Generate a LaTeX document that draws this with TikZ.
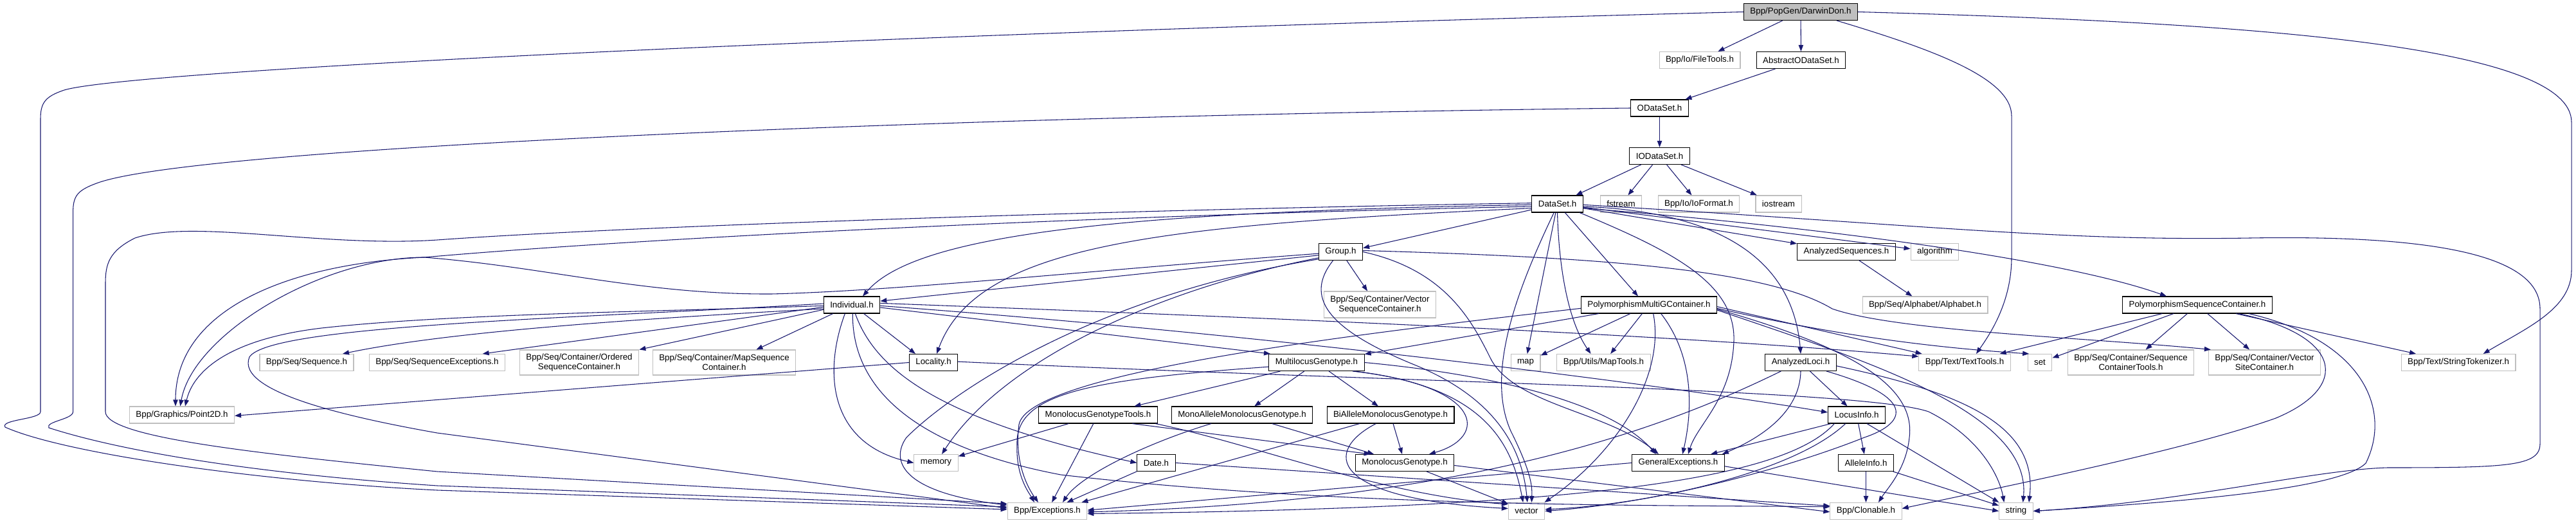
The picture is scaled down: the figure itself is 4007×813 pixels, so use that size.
\documentclass[tikz,border=0pt]{standalone}
\usepackage{fontspec}
\setmainfont{Liberation Sans}
\usetikzlibrary{arrows.meta}
\definecolor{edgec}{HTML}{191970}
\definecolor{extc}{HTML}{BFBFBF}
\begin{document}
\begin{tikzpicture}[x=0.75pt,y=-0.75pt,
  box/.style={draw=black,line width=0.8pt,inner xsep=7.5pt,inner ysep=1pt,minimum height=19.5pt,font=\fontsize{10}{11.25}\selectfont,align=center},
  ext/.style={box,draw=extc},
  root/.style={box,fill=extc},
  two/.style={minimum height=29.25pt},
  e/.style={draw=edgec,line width=0.8pt,-{Triangle[length=7.5pt,width=5.5pt]}}
]
\path[use as bounding box,fill=white] (0,0) rectangle (4007,813);

% nodes
\node[root] (darwin) at (2801,18.5) {Bpp/PopGen/DarwinDon.h};
\node[ext] (filetools) at (2644,93.5) {Bpp/Io/FileTools.h};
\node[box] (aods) at (2801.5,93.5) {AbstractODataSet.h};
\node[box] (ods) at (2581.5,168) {ODataSet.h};
\node[box] (iods) at (2581.5,242.5) {IODataSet.h};
\node[box] (ds) at (2422.5,317) {DataSet.h};
\node[ext] (fstream) at (2521.5,317) {fstream};
\node[ext] (ioformat) at (2642.5,317) {Bpp/Io/IoFormat.h};
\node[ext] (iostream) at (2766.5,317) {iostream};
\node[box] (group) at (2085.5,391.5) {Group.h};
\node[box] (aseq) at (2872,391.5) {AnalyzedSequences.h};
\node[ext] (algorithm) at (3009.5,391.5) {algorithm};
\node[ext,minimum height=30.75pt] (vseqc) at (2146.5,473.5) {Bpp/Seq/Container/Vector\\SequenceContainer.h};
\node[box] (indiv) at (1325,474) {Individual.h};
\node[box] (pmgc) at (2565,474) {PolymorphismMultiGContainer.h};
\node[ext] (alphabet) at (2994.5,474) {Bpp/Seq/Alphabet/Alphabet.h};
\node[box] (psc) at (3418,474) {PolymorphismSequenceContainer.h};
\node[ext] (sequence) at (477,563.5) {Bpp/Seq/Sequence.h};
\node[ext] (seqexc) at (680,563.5) {Bpp/Seq/SequenceExceptions.h};
\node[ext,two] (osc) at (901,563.5) {Bpp/Seq/Container/Ordered\\SequenceContainer.h};
\node[ext,two] (msc) at (1126.5,563.5) {Bpp/Seq/Container/MapSequence\\Container.h};
\node[box] (locality) at (1452,563.5) {Locality.h};
\node[box] (mlg) at (2048,563.5) {MultilocusGenotype.h};
\node[ext] (map) at (2373,563.5) {map};
\node[ext] (maptools) at (2494.5,563.5) {Bpp/Utils/MapTools.h};
\node[box] (aloci) at (2801,563.5) {AnalyzedLoci.h};
\node[ext] (texttools) at (3056,563.5) {Bpp/Text/TextTools.h};
\node[ext] (set) at (3173,563.5) {set};
\node[ext,two] (sct) at (3314.5,563.5) {Bpp/Seq/Container/Sequence\\ContainerTools.h};
\node[ext,two] (vsitec) at (3522.5,563.5) {Bpp/Seq/Container/Vector\\SiteContainer.h};
\node[ext] (strtok) at (3824,563.5) {Bpp/Text/StringTokenizer.h};
\node[ext] (point2d) at (283,645) {Bpp/Graphics/Point2D.h};
\node[box] (mgt) at (1708,645) {MonolocusGenotypeTools.h};
\node[box] (mamg) at (1932,645) {MonoAlleleMonolocusGenotype.h};
\node[box] (bamg) at (2163,645) {BiAlleleMonolocusGenotype.h};
\node[box] (locusinfo) at (2888,645) {LocusInfo.h};
\node[ext] (memory) at (1456,719.5) {memory};
\node[box] (date) at (1798.5,719.5) {Date.h};
\node[box] (mg) at (2185,719.5) {MonolocusGenotype.h};
\node[box] (genexc) at (2610.5,719.5) {GeneralExceptions.h};
\node[box] (alleleinfo) at (2902.5,719.5) {AlleleInfo.h};
\node[ext] (exceptions) at (1629,794.5) {Bpp/Exceptions.h};
\node[ext] (vector) at (2374.5,794.5) {vector};
\node[ext] (clonable) at (2902.5,794.5) {Bpp/Clonable.h};
\node[ext] (string) at (3136,794.5) {string};

% DarwinDon
\draw[e] (darwin) -- (filetools);
\draw[e] (darwin) -- (aods);
\draw[e] ([xshift=42pt]darwin.south) .. controls (3000,75) and (3129,120) .. (3129,180) -- (3129,400) .. controls (3129,470) and (3095,520) .. ([xshift=13.5pt]texttools.north);
\draw[e] (darwin.east) .. controls (3500,35) and (4000,70) .. (4000,190) -- (4000,420) .. controls (4000,480) and (3930,510) .. ([xshift=29pt]strtok.north);
\draw[e] (darwin.west) .. controls (1300,55) and (200,110) .. (100,140) .. controls (70,150) and (63,160) .. (63,185) -- (63,640) .. controls (63,652) and (0,652) .. (8,664) .. controls (100,705) and (400,748) .. (680,762) -- ([yshift=1.9pt]exceptions.west);

% AbstractODataSet, ODataSet, IODataSet
\draw[e] (aods) -- (ods);
\draw[e] (ods) -- (iods);
\draw[e] (ods.west) .. controls (1500,180) and (300,228) .. (150,285) .. controls (120,296) and (113.6,305) .. (113.6,330) -- (113.6,640) .. controls (113.6,652) and (70,655) .. (76,665) .. controls (200,705) and (420,738) .. (680,755) -- ([yshift=4.9pt]exceptions.west);
\draw[e] (iods) -- (ds);
\draw[e] (iods) -- (fstream);
\draw[e] (iods) -- (ioformat);
\draw[e] (iods) -- (iostream);

% DataSet
\draw[e] ([yshift=-6.75pt]ds.west) -- ([yshift=4.5pt]group.east);
\draw[e] ([yshift=-1pt]ds.west) .. controls (1700,330) and (1420,370) .. ([xshift=12.75pt]indiv.north);
\draw[e] ([yshift=-5pt]ds.west) .. controls (1800,350) and (1520,380) .. ([xshift=3.75pt]locality.north);
\draw[e] ([yshift=-3pt]ds.west) .. controls (1700,335) and (1000,370) .. (660,400) .. controls (450,410) and (273,480) .. ([xshift=-7.5pt]point2d.north);
\draw[e] ([yshift=1pt]ds.west) .. controls (1800,325) and (1000,350) .. (680,373) .. controls (500,385) and (300,340) .. (210,370) .. controls (170,390) and (164,410) .. (164,440) -- (164,640) .. controls (164,680) and (400,705) .. (680,733) -- ([yshift=8.6pt]exceptions.west);
\draw[e] ([xshift=-4pt]ds.south) .. controls (2360,450) and (2310,580) .. (2350,670) .. controls (2385,740) and (2383,760) .. ([xshift=6pt]vector.north);
\draw[e] ([xshift=-2pt]ds.south) -- (map);
\draw[e] (ds.south) .. controls (2425,420) and (2440,500) .. ([xshift=-15pt]maptools.north);
\draw[e] (ds) -- ([xshift=-12.75pt]pmgc.north);
\draw[e] ([xshift=26pt]ds.south) .. controls (2600,390) and (2700,440) .. (2697,530) .. controls (2694,620) and (2640,660) .. ([xshift=11.6pt]genexc.north);
\draw[e] ([yshift=-3pt]ds.east) .. controls (2700,330) and (2790,420) .. (aloci.north);
\draw[e] (ds) -- (aseq);
\draw[e] (ds) -- (algorithm);
\draw[e] ([yshift=-5pt]ds.east) .. controls (2800,350) and (3200,400) .. ([xshift=-36pt]psc.north);
\draw[e] ([yshift=-1pt]ds.east) .. controls (3000,350) and (3200,375) .. (3500,370) .. controls (3800,365) and (3951,400) .. (3951,480) -- (3951,690) .. controls (3951,725) and (3900,727) .. (3714,727) .. controls (3600,730) and (3400,780) .. (string.east);

% AnalyzedSequences
\draw[e] (aseq) -- (alphabet);

% Group
\draw[e] ([yshift=-4pt]group.west) -- ([yshift=4.5pt]indiv.east);
\draw[e] ([yshift=-2pt]group.west) .. controls (1700,420) and (1400,452) .. (1200,457) .. controls (1000,458) and (850,415) .. (660,400) .. controls (500,400) and (300,520) .. ([xshift=-2pt]point2d.north);
\draw[e] ([xshift=7pt]group.south) -- ([xshift=-14.6pt]vseqc.north);
\draw[e] ([xshift=-9pt]group.south) .. controls (2030,460) and (2060,510) .. (2200,567) .. controls (2330,620) and (2368,700) .. ([xshift=1pt]vector.north);
\draw[e] (group.east) .. controls (2250,420) and (2290,500) .. (2320,560) .. controls (2360,630) and (2500,640) .. ([xshift=-22.9pt]genexc.north);
\draw[e] ([yshift=-7pt]group.west) .. controls (1800,450) and (1560,560) .. ([xshift=6.75pt]memory.north);
\draw[e] ([yshift=-8.5pt]group.west) .. controls (1700,460) and (1480,610) .. (1410,680) .. controls (1385,715) and (1400,765) .. ([yshift=7pt]exceptions.west);
\draw[e] ([yshift=1.5pt]group.east) .. controls (2500,400) and (2750,420) .. (2850,480) .. controls (2950,515) and (3250,525) .. ([xshift=3pt]vsitec.north west);

% Individual
\draw[e] ([yshift=-1pt]indiv.west) .. controls (1000,485) and (700,488) .. (500,510) .. controls (350,528) and (300,580) .. ([xshift=3.75pt]point2d.north);
\draw[e] ([yshift=-4.5pt]indiv.west) .. controls (1000,495) and (700,515) .. ([xshift=42pt]sequence.north);
\draw[e] ([yshift=1.5pt]indiv.west) .. controls (900,495) and (420,505) .. (388,555) .. controls (365,610) and (550,650) .. (680,673) -- ([yshift=3.4pt]exceptions.west);
\draw[e] ([yshift=-2.5pt]indiv.west) -- ([xshift=53pt]seqexc.north);
\draw[e] ([yshift=-5.5pt]indiv.west) -- ([xshift=70pt]osc.north);
\draw[e] ([xshift=-22pt]indiv.south) -- ([xshift=37.5pt]msc.north);
\draw[e] ([xshift=14pt]indiv.south) -- ([xshift=-21pt]locality.north);
\draw[e] ([yshift=-3pt]indiv.east) -- ([xshift=2pt]mlg.north west);
\draw[e] ([xshift=4pt]indiv.south) .. controls (1360,570) and (1450,650) .. (date.west);
\draw[e] ([xshift=-8pt]indiv.south) .. controls (1280,580) and (1290,690) .. (memory.west);
\draw[e] ([xshift=1pt]indiv.south) .. controls (1325,620) and (1450,700) .. (1650,738) .. controls (2100,790) and (2600,785) .. ([yshift=5pt]clonable.west);
\draw[e] ([yshift=2pt]indiv.east) .. controls (2000,495) and (2600,520) .. ([yshift=7pt]texttools.west);
\draw[e] ([yshift=-1pt]indiv.east) .. controls (2000,522) and (2600,600) .. ([yshift=3pt]locusinfo.west);

% PolymorphismMultiGContainer
\draw[e] (pmgc) -- (mlg);
\draw[e] (pmgc) -- (map);
\draw[e] (pmgc) -- (maptools);
\draw[e] ([xshift=5pt]pmgc.south) .. controls (2590,580) and (2520,700) .. ([xshift=21pt]vector.north);
\draw[e] ([xshift=14pt]pmgc.south) .. controls (2640,560) and (2630,650) .. ([xshift=5pt]genexc.north);
\draw[e] ([yshift=-4pt]pmgc.west) .. controls (2100,520) and (1600,580) .. (1585,660) .. controls (1577,720) and (1600,760) .. ([xshift=-10.5pt]exceptions.north);
\draw[e] ([yshift=-2pt]pmgc.east) -- ([xshift=4pt]texttools.north west);
\draw[e] ([yshift=-4pt]pmgc.east) .. controls (2850,520) and (3000,540) .. ([xshift=2pt]set.north west);
\draw[e] ([yshift=-5pt]pmgc.east) .. controls (2880,540) and (2980,600) .. (2970,680) .. controls (2965,730) and (2935,760) .. ([xshift=14.6pt]clonable.north);
\draw[e] ([yshift=-6pt]pmgc.east) .. controls (2900,560) and (3160,640) .. ([xshift=8pt]string.north);

% PolymorphismSequenceContainer
\draw[e] (psc) -- (texttools);
\draw[e] (psc) -- (set);
\draw[e] (psc) -- (sct);
\draw[e] (psc) -- (vsitec);
\draw[e] ([xshift=45pt]psc.south) -- ([xshift=-49.5pt]strtok.north);
\draw[e] ([xshift=48pt]psc.south) .. controls (3640,520) and (3660,600) .. (3540,650) .. controls (3400,700) and (3100,760) .. ([yshift=3pt]clonable.east);
\draw[e] ([xshift=60pt]psc.south) .. controls (3680,530) and (3720,640) .. (3680,720) .. controls (3640,760) and (3400,780) .. (string.east);

% Locality
\draw[e] (locality.west) -- ([yshift=-1pt]point2d.east);
\draw[e] ([yshift=1pt]locality.east) .. controls (2200,595) and (2900,605) .. (3000,640) .. controls (3080,680) and (3110,740) .. ([xshift=-14pt]string.north);

% MultilocusGenotype
\draw[e] (mlg) -- (mgt);
\draw[e] (mlg) -- (mamg);
\draw[e] (mlg) -- (bamg);
\draw[e] ([xshift=42pt]mlg.south) .. controls (2310,600) and (2315,680) .. ([xshift=28.5pt]mg.north);
\draw[e] ([xshift=44pt]mlg.south) .. controls (2300,600) and (2350,680) .. ([xshift=-4pt]vector.north);
\draw[e] ([yshift=-5pt]mlg.west) .. controls (1700,590) and (1580,610) .. (1582,690) .. controls (1580,740) and (1600,765) .. ([xshift=-15pt]exceptions.north);
\draw[e] (mlg.east) .. controls (2300,580) and (2500,620) .. ([xshift=-26pt]genexc.north);

% Monolocus genotype family
\draw[e] (mgt) -- (memory);
\draw[e] (mgt) -- (exceptions);
\draw[e] ([xshift=40pt]mgt.south) -- ([xshift=-40pt]mg.north);
\draw[e] ([xshift=67pt]mgt.south) .. controls (1950,690) and (2150,770) .. ([yshift=8pt]vector.west);
\draw[e] ([xshift=-36pt]mamg.south) .. controls (1780,690) and (1680,740) .. ([xshift=18pt]exceptions.north);
\draw[e] ([xshift=35pt]mamg.south) -- ([xshift=-36pt]mg.north);
\draw[e] (bamg) -- (mg);
\draw[e] ([xshift=-36pt]bamg.south) -- ([xshift=40pt]exceptions.north);
\draw[e] ([xshift=-17pt]bamg.south) .. controls (2060,700) and (2060,775) .. ([yshift=3pt]vector.west);
\draw[e] (mg) -- (vector);
\draw[e] ([yshift=-3pt]mg.east) -- ([yshift=-1pt]clonable.west);

% Date
\draw[e] (date) -- (exceptions);
\draw[e] (date.east) -- ([yshift=6pt]clonable.west);

% AnalyzedLoci
\draw[e] (aloci) -- (locusinfo);
\draw[e] (aloci.south) .. controls (2800,640) and (2740,680) .. ([xshift=-3pt]genexc.north east);
\draw[e] ([xshift=-23pt]aloci.south) .. controls (2600,660) and (2300,780) .. ([yshift=-1pt]exceptions.east);
\draw[e] ([yshift=-4pt]aloci.east) .. controls (3050,610) and (3170,660) .. ([xshift=15pt]string.north);
\draw[e] ([xshift=30pt]aloci.south) .. controls (2990,620) and (2960,660) .. (2900,680) .. controls (2800,720) and (2600,780) .. (vector.east);

% LocusInfo
\draw[e] ([xshift=-30pt]locusinfo.south) -- ([xshift=38pt]genexc.north);
\draw[e] (locusinfo) -- (alleleinfo);
\draw[e] ([xshift=12pt]locusinfo.south) -- ([xshift=-20pt]string.north);
\draw[e] ([xshift=-26pt]locusinfo.south) .. controls (2780,740) and (2500,790) .. ([yshift=-3pt]exceptions.east);
\draw[e] ([xshift=-13pt]locusinfo.south) .. controls (2790,735) and (2560,785) .. ([yshift=2pt]vector.east);

% AlleleInfo, GeneralExceptions
\draw[e] (alleleinfo) -- (clonable);
\draw[e] (alleleinfo) -- (string);
\draw[e] (genexc.west) -- ([yshift=1pt]exceptions.east);
\draw[e] ([yshift=-4pt]genexc.east) -- (string.west);
\end{tikzpicture}
\end{document}
